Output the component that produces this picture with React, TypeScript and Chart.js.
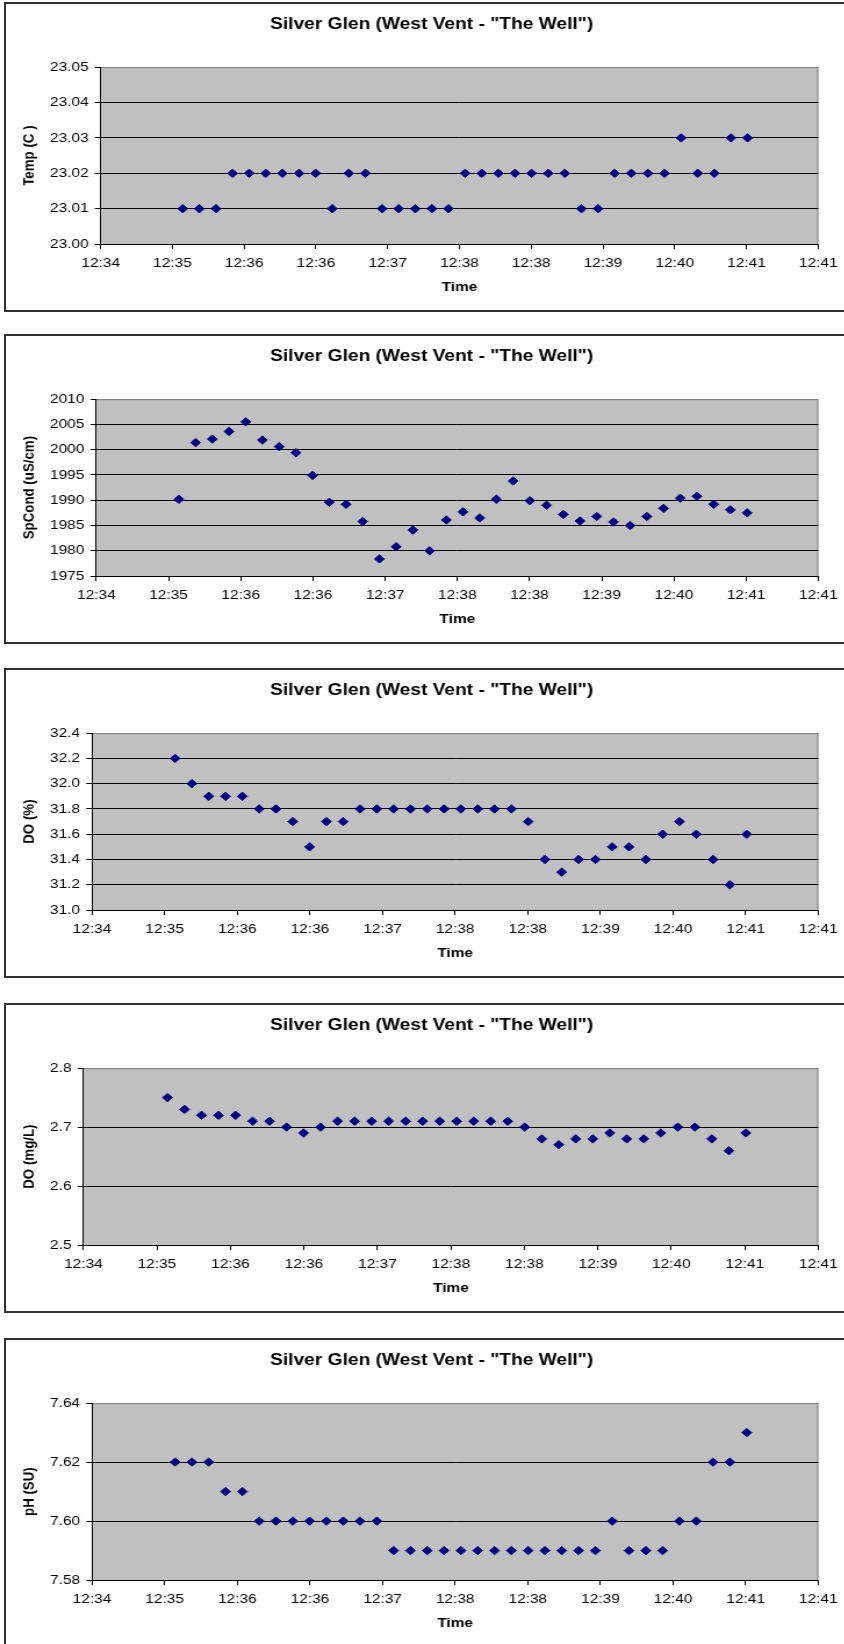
import React, { useEffect, useRef } from "react";
import { Chart, registerables } from "chart.js";

Chart.register(...registerables);

// ---------------- data ----------------
const CHART_TITLE = 'Silver Glen (West Vent - "The Well")';
const X_AXIS_TITLE = "Time";

const SAMPLE_TIMES = [
  "12:35:23", "12:35:33", "12:35:43", "12:35:53", "12:36:03", "12:36:13", "12:36:23",
  "12:36:33", "12:36:43", "12:36:53", "12:37:03", "12:37:13", "12:37:23", "12:37:33",
  "12:37:43", "12:37:53", "12:38:03", "12:38:13", "12:38:23", "12:38:33", "12:38:43",
  "12:38:53", "12:39:03", "12:39:13", "12:39:23", "12:39:33", "12:39:43", "12:39:53",
  "12:40:03", "12:40:13", "12:40:23", "12:40:33", "12:40:43", "12:40:53", "12:41:03",
];

const X_TICK_TIMES = [
  "12:34:33.6", "12:35:16.8", "12:36:00.0", "12:36:43.2", "12:37:26.4", "12:38:09.6",
  "12:38:52.8", "12:39:36.0", "12:40:19.2", "12:41:02.4", "12:41:45.6",
];
const X_TICK_LABELS = [
  "12:34", "12:35", "12:36", "12:36", "12:37", "12:38", "12:38", "12:39", "12:40", "12:41", "12:41",
];

const TEMP_C = [
  23.01, 23.01, 23.01, 23.02, 23.02, 23.02, 23.02, 23.02, 23.02, 23.01, 23.02, 23.02,
  23.01, 23.01, 23.01, 23.01, 23.01, 23.02, 23.02, 23.02, 23.02, 23.02, 23.02, 23.02,
  23.01, 23.01, 23.02, 23.02, 23.02, 23.02, 23.03, 23.02, 23.02, 23.03, 23.03,
];
const TEMP_TICKS = [23.0, 23.01, 23.02, 23.03, 23.04, 23.05];

const SPCOND = [
  1990.2, 2001.4, 2002.1, 2003.6, 2005.5, 2001.9, 2000.6, 1999.4, 1994.9, 1989.6, 1989.2, 1985.8,
  1978.4, 1980.8, 1984.1, 1980.0, 1986.1, 1987.7, 1986.5, 1990.2, 1993.8, 1989.9, 1989.0, 1987.2,
  1985.9, 1986.8, 1985.7, 1985.0, 1986.8, 1988.4, 1990.4, 1990.8, 1989.2, 1988.1, 1987.5,
];
const SPCOND_TICKS = [1975, 1980, 1985, 1990, 1995, 2000, 2005, 2010];

const DO_PCT = [
  32.2, 32.0, 31.9, 31.9, 31.9, 31.8, 31.8, 31.7, 31.5, 31.7, 31.7, 31.8,
  31.8, 31.8, 31.8, 31.8, 31.8, 31.8, 31.8, 31.8, 31.8, 31.7, 31.4, 31.3,
  31.4, 31.4, 31.5, 31.5, 31.4, 31.6, 31.7, 31.6, 31.4, 31.2, 31.6,
];
const DO_PCT_TICKS = [31.0, 31.2, 31.4, 31.6, 31.8, 32.0, 32.2, 32.4];

const DO_MGL = [
  2.75, 2.73, 2.72, 2.72, 2.72, 2.71, 2.71, 2.7, 2.69, 2.7, 2.71, 2.71,
  2.71, 2.71, 2.71, 2.71, 2.71, 2.71, 2.71, 2.71, 2.71, 2.7, 2.68, 2.67,
  2.68, 2.68, 2.69, 2.68, 2.68, 2.69, 2.7, 2.7, 2.68, 2.66, 2.69,
];
const DO_MGL_TICKS = [2.5, 2.6, 2.7, 2.8];

const PH_SU = [
  7.62, 7.62, 7.62, 7.61, 7.61, 7.6, 7.6, 7.6, 7.6, 7.6, 7.6, 7.6,
  7.6, 7.59, 7.59, 7.59, 7.59, 7.59, 7.59, 7.59, 7.59, 7.59, 7.59, 7.59,
  7.59, 7.59, 7.6, 7.59, 7.59, 7.59, 7.6, 7.6, 7.62, 7.62, 7.63,
];
const PH_TICKS = [7.58, 7.6, 7.62, 7.64];

const PANELS = [
  { yTitle: "Temp (C )", values: TEMP_C, yTicks: TEMP_TICKS, decimals: 2 },
  { yTitle: "SpCond (uS/cm)", values: SPCOND, yTicks: SPCOND_TICKS, decimals: 0 },
  { yTitle: "DO (%)", values: DO_PCT, yTicks: DO_PCT_TICKS, decimals: 1 },
  { yTitle: "DO (mg/L)", values: DO_MGL, yTicks: DO_MGL_TICKS, decimals: 1 },
  { yTitle: "pH (SU)", values: PH_SU, yTicks: PH_TICKS, decimals: 2 },
];

// ---------------- layout ----------------
const STRETCH = 1.16;
const PAGE_W = 844;
const BOX_TOPS = [2, 334, 668, 1003, 1338];
const BOX_H = 310;
const CANVAS_H = 306;
const NAVY = "#000080";
const FONT = '"Liberation Sans", Arial, Helvetica, sans-serif';

Chart.defaults.font.family = FONT;
Chart.defaults.color = "#000";

function toSeconds(t: string): number {
  const [h, m, s] = t.split(":");
  return Number(h) * 3600 + Number(m) * 60 + Number(s);
}

const plotAreaPlugin = {
  id: "plotArea",
  beforeDraw(chart: any) {
    const { ctx, chartArea: a } = chart;
    ctx.save();
    ctx.fillStyle = "#C0C0C0";
    ctx.fillRect(a.left, a.top, a.right - a.left, a.bottom - a.top);
    ctx.strokeStyle = "#808080";
    ctx.lineWidth = 1;
    ctx.beginPath();
    ctx.moveTo(a.left, a.top + 0.5);
    ctx.lineTo(a.right - 0.5, a.top + 0.5);
    ctx.lineTo(a.right - 0.5, a.bottom);
    ctx.stroke();
    ctx.restore();
  },
};

function Panel({ top, panel }: { top: number; panel: any }) {
  const ref = useRef<HTMLCanvasElement>(null);
  useEffect(() => {
    const xs = SAMPLE_TIMES.map(toSeconds);
    const xTicks = X_TICK_TIMES.map(toSeconds);
    const yTicks: number[] = panel.yTicks;
    const yMax = yTicks[yTicks.length - 1];
    const chart = new Chart(ref.current as HTMLCanvasElement, {
      type: "scatter",
      data: {
        datasets: [
          {
            data: panel.values.map((v: number, i: number) => ({ x: xs[i], y: v })),
            pointStyle: "rectRot",
            pointRadius: 4.2,
            pointHoverRadius: 4.2,
            backgroundColor: NAVY,
            borderColor: NAVY,
            borderWidth: 1,
          },
        ],
      },
      options: {
        animation: false,
        responsive: true,
        maintainAspectRatio: false,
        events: [],
        layout: { padding: { left: 35.4, right: 19.8, top: 0, bottom: 0 } },
        plugins: {
          legend: { display: false },
          tooltip: { enabled: false },
          title: {
            display: true,
            text: CHART_TITLE,
            color: "#000",
            font: { family: FONT, size: 16.5, weight: "bold" },
            padding: { top: 12.9, bottom: 32.4 },
          },
        },
        scales: {
          x: {
            type: "linear",
            min: xTicks[0],
            max: xTicks[xTicks.length - 1],
            afterBuildTicks: (s: any) => {
              s.ticks = xTicks.map((v) => ({ value: v }));
            },
            afterFit: (s: any) => {
              s.height = 63.9;
            },
            ticks: {
              autoSkip: false,
              maxRotation: 0,
              minRotation: 0,
              padding: 6.5,
              color: "#000",
              font: { family: FONT, size: 13.3 },
              callback: (_v: any, i: number) => X_TICK_LABELS[i],
            },
            grid: { drawOnChartArea: false, drawTicks: true, tickLength: 5, tickColor: "#000", tickWidth: 1 },
            border: { display: true, color: "#000", width: 1 },
            title: {
              display: true,
              text: X_AXIS_TITLE,
              color: "#000",
              font: { family: FONT, size: 13.3, weight: "bold" },
              padding: { top: 0, bottom: 12.9 },
            },
          },
          y: {
            type: "linear",
            min: yTicks[0],
            max: yMax,
            afterBuildTicks: (s: any) => {
              s.ticks = yTicks.map((v) => ({ value: v }));
            },
            ticks: {
              padding: 5.3,
              color: "#000",
              font: { family: FONT, size: 13.3 },
              callback: (v: any) => Number(v).toFixed(panel.decimals),
            },
            grid: {
              drawOnChartArea: true,
              drawTicks: true,
              tickLength: 5,
              tickColor: "#000",
              tickWidth: 1,
              lineWidth: 1,
              color: (c: any) =>
                c.tick && Math.abs(c.tick.value - yMax) < 1e-9 ? "#808080" : "#000",
            },
            border: { display: true, color: "#000", width: 1 },
            title: {
              display: true,
              text: panel.yTitle,
              color: "#000",
              font: { family: FONT, size: 13.3, weight: "bold" },
              padding: { top: -17.9, bottom: 4.3 },
            },
          },
        },
      },
      plugins: [plotAreaPlugin],
    } as any);
    return () => chart.destroy();
  }, [panel]);

  return (
    <>
      <div
        style={{
          position: "absolute",
          left: 4,
          top,
          width: 900,
          height: BOX_H,
          border: "2px solid #333",
          boxSizing: "border-box",
        }}
      />
      <div
        style={{
          position: "absolute",
          left: 0,
          top,
          width: PAGE_W / STRETCH,
          height: CANVAS_H,
          transform: `scaleX(${STRETCH})`,
          transformOrigin: "0 0",
        }}
      >
        <canvas ref={ref} />
      </div>
    </>
  );
}

export default function App() {
  return (
    <div
      style={{
        position: "absolute",
        left: 0,
        top: 0,
        width: PAGE_W,
        height: 1644,
        overflow: "hidden",
        background: "#fff",
      }}
    >
      {PANELS.map((p, i) => (
        <Panel key={i} top={BOX_TOPS[i]} panel={p} />
      ))}
    </div>
  );
}
